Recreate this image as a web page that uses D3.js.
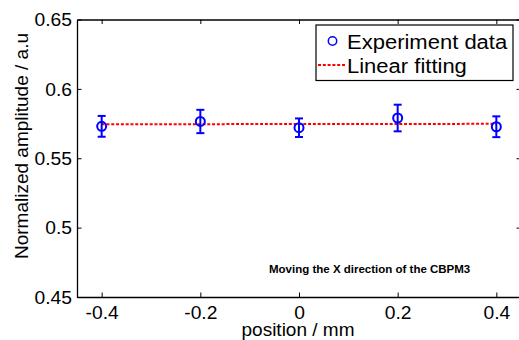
<!DOCTYPE html>
<html>
<head>
<meta charset="utf-8">
<script src="https://cdn.jsdelivr.net/npm/d3@7"></script>
<style>
  html, body { margin: 0; padding: 0; background: #fff; overflow: hidden; }
  svg { display: block; font-family: 'Liberation Sans', Arial, sans-serif; }
</style>
</head>
<body>
<div id="chart"></div>
<script>
// data
const positions = [-0.4, -0.2, 0, 0.2, 0.4];
const amplitudes = [0.5730, 0.5765, 0.5720, 0.5790, 0.5727];
const errors = [0.0075, 0.0084, 0.0067, 0.0096, 0.0075];
const fitX = [-0.4, 0.4];
const fitY = [0.5745, 0.5748];
const xTicks = [-0.4, -0.2, 0, 0.2, 0.4];
const yTicks = [0.45, 0.5, 0.55, 0.6, 0.65];

const width = 519, height = 340;
const margin = { left: 77, top: 19.5, right: -2, bottom: 43 };
const innerW = width - margin.left - margin.right;
const innerH = height - margin.top - margin.bottom;

const svg = d3.select("#chart").append("svg")
  .attr("width", width)
  .attr("height", height);

const x = d3.scaleLinear().domain([-0.45, 0.45]).range([margin.left, margin.left + innerW]);
const y = d3.scaleLinear().domain([0.45, 0.65]).range([margin.top + innerH, margin.top]);

const tickLen = 4.5;
const fmt = d => d === 0 ? "0" : String(d);

// the reference glyphs are a bit wider than Liberation Sans
function widen(sel, k) {
  sel.each(function() {
    const len = this.getComputedTextLength();
    d3.select(this).attr("textLength", len * k).attr("lengthAdjust", "spacingAndGlyphs");
  });
}

// axes, ticks pointing inwards (matlab style)
const axBottom = svg.append("g").attr("transform", `translate(0,${y(0.45)})`)
  .call(d3.axisBottom(x).tickValues(xTicks).tickSizeInner(-tickLen).tickSizeOuter(0).tickPadding(10).tickFormat(fmt));
const axTop = svg.append("g").attr("transform", `translate(0,${y(0.65)})`)
  .call(d3.axisTop(x).tickValues(xTicks).tickSizeInner(-tickLen).tickSizeOuter(0).tickFormat(""));
const axLeft = svg.append("g").attr("transform", `translate(${x(-0.45)},0)`)
  .call(d3.axisLeft(y).tickValues(yTicks).tickSizeInner(-tickLen).tickSizeOuter(0).tickPadding(5).tickFormat(fmt));
const axRight = svg.append("g").attr("transform", `translate(${x(0.45)},0)`)
  .call(d3.axisRight(y).tickValues(yTicks).tickSizeInner(-tickLen).tickSizeOuter(0).tickFormat(""));

[axBottom, axTop, axLeft, axRight].forEach(g => {
  g.select(".domain").attr("stroke", "#000").attr("stroke-width", 1.3);
  g.selectAll(".tick line").attr("stroke", "#000").attr("stroke-width", 1);
  g.selectAll(".tick text").attr("fill", "#000").style("font-size", "17.5px").style("font-family", "'Liberation Sans', Arial, sans-serif");
});
axBottom.selectAll(".tick text").attr("dy", "0.71em");
axLeft.selectAll(".tick text").attr("dy", "0.36em");
widen(axBottom.selectAll(".tick text"), 1.1);
widen(axLeft.selectAll(".tick text"), 1.1);

// fitting line
svg.append("path")
  .datum(fitX.map((d, i) => [d, fitY[i]]))
  .attr("d", d3.line().x(d => x(d[0])).y(d => y(d[1])))
  .attr("fill", "none")
  .attr("stroke", "#ff0000")
  .attr("stroke-width", 2)
  .attr("stroke-dasharray", "3,1.8");

// error bars + markers
const pts = svg.append("g").selectAll("g")
  .data(positions.map((p, i) => ({ p, v: amplitudes[i], e: errors[i] })))
  .enter().append("g");

pts.append("line")
  .attr("x1", d => x(d.p)).attr("x2", d => x(d.p))
  .attr("y1", d => y(d.v - d.e)).attr("y2", d => y(d.v + d.e))
  .attr("stroke", "#0000ff").attr("stroke-width", 2);
[1, -1].forEach(s => {
  pts.append("line")
    .attr("x1", d => x(d.p) - 4).attr("x2", d => x(d.p) + 4)
    .attr("y1", d => y(d.v + s * d.e)).attr("y2", d => y(d.v + s * d.e))
    .attr("stroke", "#0000ff").attr("stroke-width", 2);
});
pts.append("circle")
  .attr("cx", d => x(d.p)).attr("cy", d => y(d.v))
  .attr("r", 4.5)
  .attr("fill", "none")
  .attr("stroke", "#0000ff").attr("stroke-width", 2);

// legend
const legend = svg.append("g");
legend.append("rect")
  .attr("x", 316).attr("y", 25).attr("width", 197).attr("height", 55.5)
  .attr("fill", "#fff").attr("stroke", "#000").attr("stroke-width", 1.2);
legend.append("circle")
  .attr("cx", 332.5).attr("cy", 41).attr("r", 4.2)
  .attr("fill", "none").attr("stroke", "#0000ff").attr("stroke-width", 1.5);
legend.append("line")
  .attr("x1", 318).attr("x2", 345).attr("y1", 65).attr("y2", 65)
  .attr("stroke", "#ff0000").attr("stroke-width", 2).attr("stroke-dasharray", "3,1.8");
const legTexts = legend.selectAll("text.leg")
  .data(["Experiment data", "Linear fitting"])
  .enter().append("text")
  .attr("class", "leg")
  .attr("x", 347).attr("y", (d, i) => i === 0 ? 48.5 : 73)
  .style("font-size", "20px").attr("fill", "#000")
  .text(d => d);
widen(legTexts, 1.1);

// annotation
svg.append("text")
  .attr("x", 269).attr("y", 273)
  .text("Moving the X direction of the CBPM3")
  .style("font-size", "11.5px").style("font-weight", "bold")
  .attr("fill", "#000");

// axis labels
svg.append("text")
  .attr("x", 298).attr("y", 335.5)
  .attr("text-anchor", "middle")
  .style("font-size", "19px")
  .text("position / mm");
svg.append("text")
  .attr("transform", "translate(28,146) rotate(-90)")
  .attr("text-anchor", "middle")
  .style("font-size", "19px")
  .text("Normalized amplitude / a.u");
</script>
</body>
</html>
